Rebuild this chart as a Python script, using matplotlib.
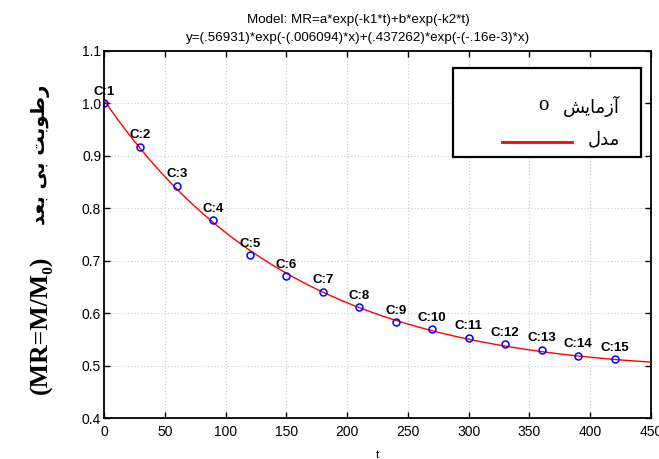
import numpy as np
import matplotlib
matplotlib.use("Agg")
import matplotlib.pyplot as plt
from matplotlib.lines import Line2D
from matplotlib.patches import Rectangle

# points mesurés (temps, MR)
t_obs = [0, 30, 60, 90, 120, 150, 180, 210, 240, 270, 300, 330, 360, 390, 420]
mr_obs = [1.000, 0.917, 0.843, 0.777, 0.710, 0.670, 0.641, 0.611, 0.583,
          0.569, 0.553, 0.541, 0.530, 0.519, 0.512]
point_labels = [f"C:{i}" for i in range(1, 16)]

# paramètres du modèle lus dans le titre
a, k1 = 0.56931, 0.006094
b, k2 = 0.437262, -0.16e-3

x_ticks = [0, 50, 100, 150, 200, 250, 300, 350, 400, 450]
y_ticks = [0.4, 0.5, 0.6, 0.7, 0.8, 0.9, 1.0, 1.1]

title1 = "Model: MR=a*exp(-k1*t)+b*exp(-k2*t)"
title2 = "y=(.56931)*exp(-(.006094)*x)+(.437262)*exp(-(-.16e-3)*x)"

# texte persan en formes de présentation, ordre visuel (gauche -> droite)
fa_ylabel = "\uFEAA\uFECC\uFE91 \uFBFD\uFE91 \uFE96\uFE91\uFEEE\uFEC3\uFEAD"   # رطوبت بی بعد
fa_exp = "\uFEB6\uFBFE\uFE8E\uFEE3\uFEAF\uFE81"   # آزمایش
fa_model = "\uFEDD\uFEAA\uFEE3"                    # مدل

plt.rcParams["font.family"] = ["Liberation Sans", "DejaVu Sans"]

W, H = 659, 459


def fx(px):
    return px / W


def fy(py):
    return 1 - py / H


fig = plt.figure(figsize=(W / 100, H / 100), dpi=100)
ax = fig.add_axes([fx(104), fy(418), 547 / W, 367 / H])

tt = np.linspace(0, 450, 400)
ax.plot(tt, a * np.exp(-k1 * tt) + b * np.exp(-k2 * tt), color="red", lw=1.0, zorder=3)
ax.plot(t_obs, mr_obs, "o", ms=5, mfc="none", mec="blue", mew=1.1, zorder=4)
for x, y, s in zip(t_obs, mr_obs, point_labels):
    ax.annotate(s, (x, y), xytext=(0, 4), textcoords="offset points",
                ha="center", va="bottom", fontsize=9.5, fontweight="bold")

ax.set_xlim(0, 450)
ax.set_ylim(0.4, 1.1)
ax.set_xticks(x_ticks)
ax.set_yticks(y_ticks)
ax.set_yticklabels([f"{v:.1f}" for v in y_ticks])
ax.tick_params(direction="in", length=4, width=1, labelsize=10,
               top=True, right=True)
ax.tick_params(axis="x", pad=5)
ax.tick_params(axis="y", pad=2)
ax.grid(True, ls=(0, (1, 2)), color="#c8c8c8", lw=0.8)
for sp in ax.spines.values():
    sp.set_linewidth(1.3)

fig.text(fx(358), fy(20), title1, ha="center", va="center", fontsize=9.6)
fig.text(fx(358), fy(38), title2, ha="center", va="center", fontsize=9.6)
fig.text(fx(377), fy(455), "t", ha="center", va="center", fontsize=8)

# titre de l'axe y (deux morceaux : latin en serif, persan)
fig.text(fx(41), fy(325), "(MR=M/M\u2080)", rotation=90,
         ha="center", va="center", fontsize=18.5, fontweight="bold",
         family=["Liberation Serif", "DejaVu Serif"])
fig.text(fx(41), fy(155), fa_ylabel, rotation=90, ha="center",
         va="center", fontsize=14, fontweight="bold", family=["DejaVu Sans"])

# légende dessinée à la main (texte à droite, symbole à gauche)
fig.patches.append(Rectangle((fx(453), fy(157)), 188 / W, 89 / H,
                             transform=fig.transFigure, fill=True, fc="white",
                             ec="black", lw=1.6, zorder=5))
fig.text(fx(543), fy(106), "o", ha="center", va="center", fontsize=15,
         family=["Liberation Serif"], zorder=6)
fig.text(fx(620), fy(106), fa_exp, ha="right", va="center", fontsize=13,
         family=["DejaVu Sans"], zorder=6)
fig.lines.append(Line2D([fx(502), fx(572)], [fy(142), fy(142)],
                        transform=fig.transFigure, color="red", lw=2, zorder=6))
fig.text(fx(620), fy(139), fa_model, ha="right", va="center", fontsize=13,
         family=["DejaVu Sans"], zorder=6)

fig.savefig("out.png", dpi=100)
